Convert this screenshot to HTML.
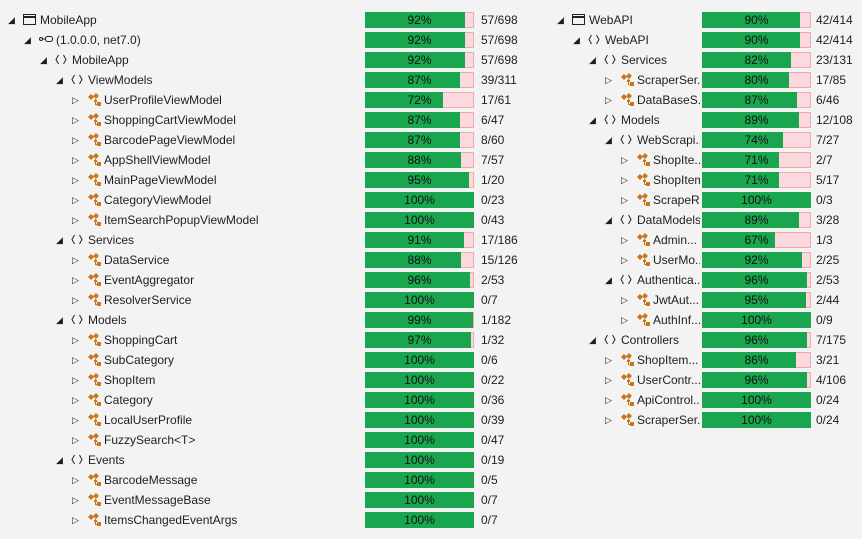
<!DOCTYPE html>
<html><head><meta charset="utf-8"><style>
body{margin:0;width:862px;height:539px;background:#f3f3f3;font-family:"Liberation Sans",sans-serif;font-size:12px;color:#1e1e1e;overflow:hidden;position:relative}
.row{position:absolute;height:20px;line-height:20px;white-space:nowrap}
.tri{position:absolute;font-size:9px;color:#1e1e1e}
.name{position:absolute;overflow:hidden;color:#1e1e1e}
.bar{position:absolute;top:2px;height:16px;width:109px;background:#fbd9dc;border:1px solid #f2a6ad;box-sizing:border-box}
.fill{position:absolute;left:-1px;top:-1px;height:16px;background:#1aa64f}
.pct{position:absolute;left:0;right:0;top:-1px;text-align:center;line-height:16px;color:#111}
.frac{position:absolute}
</style></head><body>
<script>
const leftNames=["MobileApp","(1.0.0.0, net7.0)","MobileApp","ViewModels","UserProfileViewModel","ShoppingCartViewModel","BarcodePageViewModel","AppShellViewModel","MainPageViewModel","CategoryViewModel","ItemSearchPopupViewModel","Services","DataService","EventAggregator","ResolverService","Models","ShoppingCart","SubCategory","ShopItem","Category","LocalUserProfile","FuzzySearch<T>","Events","BarcodeMessage","EventMessageBase","ItemsChangedEventArgs"];
const leftLevels=[0,1,2,3,4,4,4,4,4,4,4,3,4,4,4,3,4,4,4,4,4,4,3,4,4,4];
const leftPct=[92,92,92,87,72,87,87,88,95,100,100,91,88,96,100,99,97,100,100,100,100,100,100,100,100,100];
const leftFrac=["57/698","57/698","57/698","39/311","17/61","6/47","8/60","7/57","1/20","0/23","0/43","17/186","15/126","2/53","0/7","1/182","1/32","0/6","0/22","0/36","0/39","0/47","0/19","0/5","0/7","0/7"];
const rightNames=["WebAPI","WebAPI","Services","ScraperSer...","DataBaseS...","Models","WebScrapi...","ShopIte...","ShopItem","ScrapeR...","DataModels","Admin...","UserMo...","Authentica...","JwtAut...","AuthInf...","Controllers","ShopItem...","UserContr...","ApiControl...","ScraperSer..."];
const rightLevels=[0,1,2,3,3,2,3,4,4,4,3,4,4,3,4,4,2,3,3,3,3];
const rightPct=[90,90,82,80,87,89,74,71,71,100,89,67,92,96,95,100,96,86,96,100,100];
const rightFrac=["42/414","42/414","23/131","17/85","6/46","12/108","7/27","2/7","5/17","0/3","3/28","1/3","2/25","2/53","2/44","0/9","7/175","3/21","4/106","0/24","0/24"];

function icon(type,x){
  const s=document.createElement('span');
  s.style.position='absolute';s.style.left=x+'px';
  if(type==='a'){s.innerHTML='<svg width="13" height="12" style="position:absolute;top:4px"><rect x="0.5" y="0.5" width="12" height="10" fill="none" stroke="#222"/><line x1="0" y1="3" x2="13" y2="3" stroke="#222" stroke-width="2"/></svg>';}
  else if(type==='m'){s.innerHTML='<svg width="14" height="12" style="position:absolute;top:4px"><circle cx="2" cy="5" r="1.5" fill="none" stroke="#222"/><line x1="3.5" y1="5" x2="6" y2="5" stroke="#222"/><rect x="6.5" y="2.5" width="7" height="5" rx="2" fill="none" stroke="#222"/></svg>';}
  else if(type==='n'){s.innerHTML='<svg width="12" height="12" style="position:absolute;top:4px"><polyline points="3.5,1 1,5.5 3.5,10" fill="none" stroke="#222"/><polyline points="8.5,1 11,5.5 8.5,10" fill="none" stroke="#222"/></svg>';}
  else {s.innerHTML='<svg width="15" height="14" style="position:absolute;top:3px"><path d="M1 4 L4 1 L7 4 L4 7Z" fill="#c9771c"/><path d="M6 3 L9 0 L12 3 L9 6Z" fill="#c9771c"/><rect x="7" y="7" width="3" height="2" fill="#c9771c"/><rect x="10" y="9" width="4" height="4" fill="#c9771c"/><rect x="8" y="6" width="1" height="6" fill="#c9771c"/><rect x="8" y="11" width="2" height="1" fill="#c9771c"/></svg>';}
  return s;
}
function typeOf(lv,names,i,isLeft){
  if(lv===0) return 'a';
  if(isLeft&&lv===1) return 'm';
  const nxt=i+1<names.length?(isLeft?leftLevels:rightLevels)[i+1]:-1;
  return nxt>lv?'n':'c';
}
function render(names,levels,pct,frac,ox,barX,fracX,nameRight,isLeft){
  for(let i=0;i<names.length;i++){
    const lv=levels[i];
    const r=document.createElement('div');
    r.className='row';r.style.left='0px';r.style.top=(10+20*i)+'px';r.style.width='862px';
    
    
    const t=typeOf(lv,names,i,isLeft);
    const tri=document.createElement('span');
    tri.className='tri';tri.style.left=(ox+8+16*lv)+'px';
    tri.textContent=t==='c'?'▷':'◢';
    
    
    r.appendChild(tri);
    r.appendChild(icon(t,ox+23+16*lv));
    const n=document.createElement('span');
    n.className='name';n.style.left=(ox+40+16*lv)+'px';n.style.width=(nameRight-(ox+40+16*lv))+'px';
    n.textContent=names[i];
    
    
    r.appendChild(n);
    const b=document.createElement('div');
    b.className='bar';b.style.left=barX+'px';
    
    
    const f=document.createElement('div');f.className='fill';f.style.width=(109*pct[i]/100)+'px';
    b.appendChild(f);
    const p=document.createElement('div');p.className='pct';p.textContent=pct[i]+'%';
    b.appendChild(p);
    r.appendChild(b);
    const fr=document.createElement('span');fr.className='frac';fr.style.left=fracX+'px';fr.textContent=frac[i];
    
    
    r.appendChild(fr);
    document.body.appendChild(r);
  }
}
render(leftNames,leftLevels,leftPct,leftFrac,0,365,481,360,true);
render(rightNames,rightLevels,rightPct,rightFrac,549,702,816,700,false);
</script>
</body></html>
